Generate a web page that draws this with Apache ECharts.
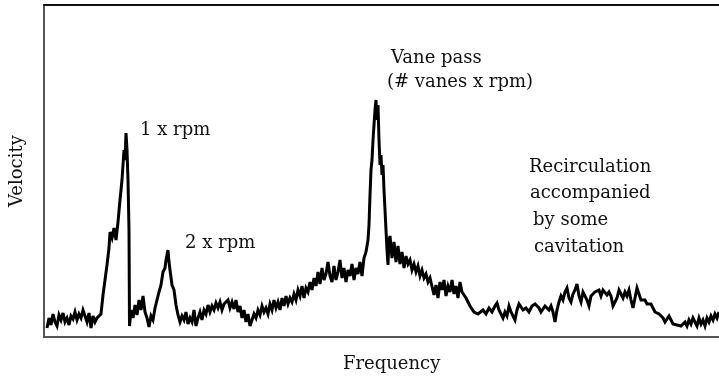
<!DOCTYPE html>
<html><head><meta charset="utf-8">
<script src="https://cdn.jsdelivr.net/npm/echarts@6/dist/echarts.min.js"></script>
<style>html,body{margin:0;padding:0;background:#fff}#c{width:719px;height:381px}</style>
</head><body><div id="c"></div>
<script>
// Frequency (arbitrary units) and velocity (arbitrary units)
const frequency = [3,5,7,9,11,13,15,17,19,21,23,25,27,29,31,33,35,37,39,41,43,45,47,49,51,53,55,57,
59,61,63,65,66,68,70,72,74,76,78,80,81,82,83,84,85,85.5,87,89,91,93,95,97,99,101,103,105,107,109,111,113,115,117,119,121,122,124,125,126,128,130,132,134,136,138,140,142,144,146,148,150,152,154,156,158,160,162,164,166,168,170,172,174,176,178,180,182,184,186,188,190,192,194,196,198,200,202,204,206,208,210,212,214,216,218,220,222,224,226,228,230,232,234,236,238,240,242,244,246,248,250,252,254,256,258,260,262,264,266,268,270,272,274,276,278,280,282,284,286,288,290,292,294,296,298,300,302,304,306,308,310,312,314,316,318,320,322,324,325,326,327,328,329,330,331,332,333,334,335,336,337,338,339,340,341,342,343,344,345,346,348,350,352,354,356,358,360,362,364,366,368,370,372,374,376,378,380,382,384,386,388,390,392,394,396,398,400,402,404,406,408,410,412,414,416,418,420,422,424,426,428,430,432,434,436,439,442,445,448,451,453,455,457,459,461,463,465,467,469,471,473,475,477,479,482,485,488,491,493,495,497,499,501,503,505,507,509,511,513,515,517,519,521,523,525,527,529,531,533,535,537,539,541,543,545,547,549,551,553,555,557,559,561,563,565,567,569,571,573,575,577,579,581,583,585,587,589,591,593,595,597,599,601,603,605,607,609,611,613,615,617,619,621,623,625,627,629,631,633,635,637,639,641,643,645,647,649,651,653,655,657,659,661,663,665,667,669,671,673,675];
const velocity = [9,19,12,23,15,11,22,17,24,15,19,12,21,18,25,17,23,19,27,21,15,24,9,21,15,19,21,23,
42,57,72,89,105,99,109,97,115,137,157,187,177,204,187,157,107,11,27,19,32,22,37,27,41,25,19,10,21,17,29,37,45,52,65,69,77,87,75,67,52,47,32,22,15,21,17,25,13,19,15,27,11,19,25,17,27,23,32,25,31,27,34,29,35,27,33,31,37,29,35,28,37,25,31,19,27,15,23,11,17,23,19,27,22,31,25,29,23,33,27,37,29,35,27,39,31,41,33,39,35,43,37,47,41,51,39,49,45,55,47,59,51,65,53,69,57,63,75,61,55,71,57,65,77,59,69,55,67,61,73,57,69,63,75,61,79,85,97,112,142,167,177,197,212,227,237,217,232,197,172,182,162,172,147,127,107,87,72,97,101,79,95,75,91,73,85,69,81,73,77,67,73,65,71,61,67,59,63,55,59,57,42,52,39,55,47,57,41,51,45,57,43,51,39,55,45,47,39,35,31,29,25,27,23,25,27,23,29,25,31,34,27,23,19,25,21,31,25,21,17,27,33,31,27,29,25,31,33,34,29,25,27,31,29,27,31,25,15,27,35,41,37,45,49,39,35,43,47,53,41,35,45,47,37,31,41,39,45,43,47,41,47,49,42,45,41,31,29,39,47,43,39,45,41,47,37,29,39,49,43,37,35,37,33,31,33,29,25,27,23,25,19,15,17,21,17,13,15,12,14,11,13,15,11,17,13,19,15,11,19,13,17,11,19,15,21,17,23,19,25];
const xLabel = "Frequency";
const yLabel = "Velocity";
const notes = [
  {lines:["1 x rpm"]},
  {lines:["2 x rpm"]},
  {lines:["Vane pass"]},
  {lines:["(# vanes x rpm)"]},
  {lines:["Recirculation"]},
  {lines:["accompanied"]},
  {lines:["by some"]},
  {lines:["cavitation"]}
];
const notePos = [[140,131],[185,244],[391,59],[387,83],[529,168],[530,194],[533,221],[534,248]];

const data = frequency.map((f,i)=>[f, velocity[i]]);
const font = '"DejaVu Serif", serif';
const chart = echarts.init(document.getElementById('c'), null, {renderer:'canvas'});
const graphics = notes.map((n,i)=>({
  type:'text', left:notePos[i][0], top:notePos[i][1]-10,
  style:{text:n.lines.join('\n'), font:'18px '+font, fill:'#111'}
}));
graphics.push({type:'text', left:343, top:355, style:{text:xLabel, font:'18px '+font, fill:'#111'}});
graphics.push({type:'text', x:8, y:207, rotation:Math.PI/2, style:{text:yLabel, font:'18px '+font, fill:'#111'}});
chart.setOption({
  animation:false,
  backgroundColor:'#fff',
  grid:{left:44, right:0, top:5, bottom:44},
  xAxis:[
    {type:'value', min:0, max:675, position:'bottom', axisLine:{show:true,lineStyle:{color:'#555',width:2}}, axisTick:{show:false}, axisLabel:{show:false}, splitLine:{show:false}},
    {type:'value', min:0, max:675, position:'top', axisLine:{show:true,lineStyle:{color:'#111',width:2}}, axisTick:{show:false}, axisLabel:{show:false}, splitLine:{show:false}}
  ],
  yAxis:{type:'value', min:0, max:332, axisLine:{show:true,lineStyle:{color:'#555',width:2}}, axisTick:{show:false}, axisLabel:{show:false}, splitLine:{show:false}},
  series:[{type:'line', xAxisIndex:0, data:data, showSymbol:false, symbol:'none', lineStyle:{color:'#000', width:3, join:'miter', miterLimit:4}}],
  graphic:graphics
});
</script></body></html>
